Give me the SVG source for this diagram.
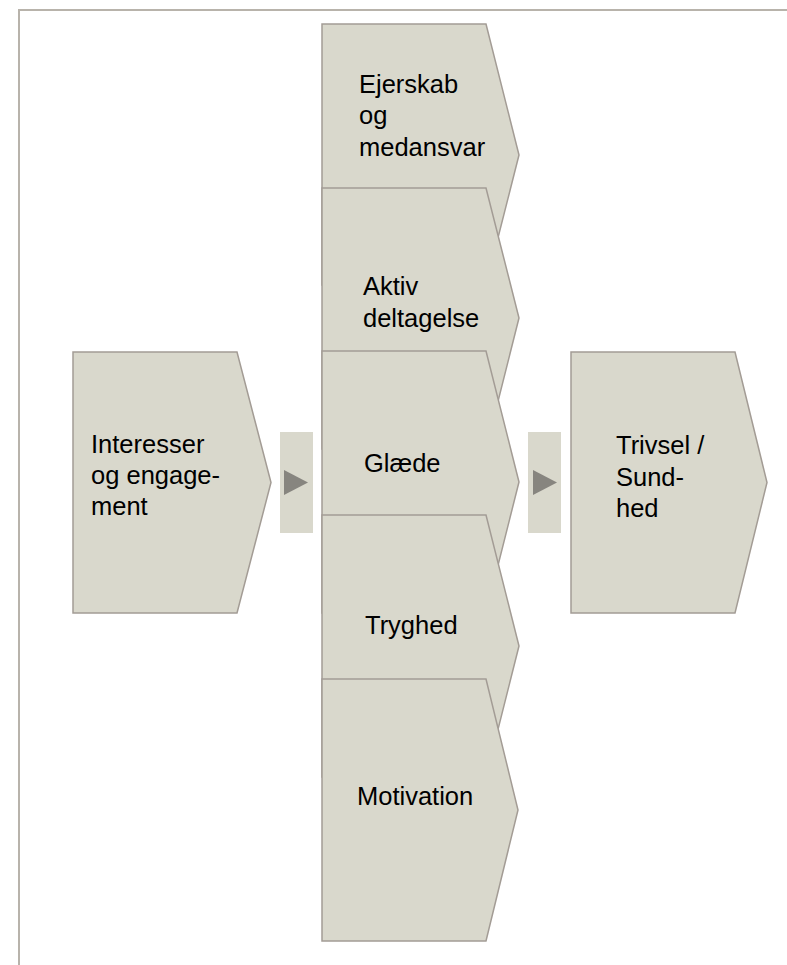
<svg xmlns="http://www.w3.org/2000/svg" width="787" height="965" viewBox="0 0 787 965">
<style>
.frame{fill:none;stroke:#b8b3ab;stroke-width:2}
.node{fill:#d9d8cc;stroke:#a39c95;stroke-width:1.5}
.box{fill:#d9d8cc}
.tri{fill:#87857f}
text{font-family:"Liberation Sans",Arial,sans-serif;font-size:25.5px;fill:#000}
</style>
<rect width="787" height="965" fill="#ffffff"/>
<path class="frame" d="M19,965 V10 H787"/>
<g id="connectors">
<g id="arrow1"><rect class="box" x="280" y="432" width="33" height="101"/><polygon class="tri" points="284,470 308,482.5 284,495"/></g>
<g id="arrow2"><rect class="box" x="528" y="432" width="33" height="101"/><polygon class="tri" points="533,470 557,482.5 533,495"/></g>
</g>
<g id="n-interesser">
<polygon class="node" points="73,352 237,352 271,482.5 237,613 73,613"/>
<text x="91" y="453">Interesser</text>
<text x="91" y="484">og engage-</text>
<text x="91" y="515">ment</text>
</g>
<g id="n-ejerskab">
<polygon class="node" points="322,24 486,24 519,155 486,285 322,285"/>
<text x="359" y="93">Ejerskab</text>
<text x="359" y="124">og</text>
<text x="359" y="156">medansvar</text>
</g>
<g id="n-aktiv">
<polygon class="node" points="322,188 486,188 519,318 486,449 322,449"/>
<text x="363" y="295">Aktiv</text>
<text x="363" y="327">deltagelse</text>
</g>
<g id="n-glaede">
<polygon class="node" points="322,351 486,351 519,482 486,613 322,613"/>
<text x="364" y="472">Glæde</text>
</g>
<g id="n-tryghed">
<polygon class="node" points="322,515 486,515 519,646 486,777 322,777"/>
<text x="365" y="634">Tryghed</text>
</g>
<g id="n-motivation">
<polygon class="node" points="322,679 486,679 518,810 486,941 322,941"/>
<text x="357" y="805">Motivation</text>
</g>
<g id="n-trivsel">
<polygon class="node" points="571,352 735,352 767,482.5 735,613 571,613"/>
<text x="616" y="454">Trivsel /</text>
<text x="616" y="486">Sund-</text>
<text x="616" y="517">hed</text>
</g>
</svg>
